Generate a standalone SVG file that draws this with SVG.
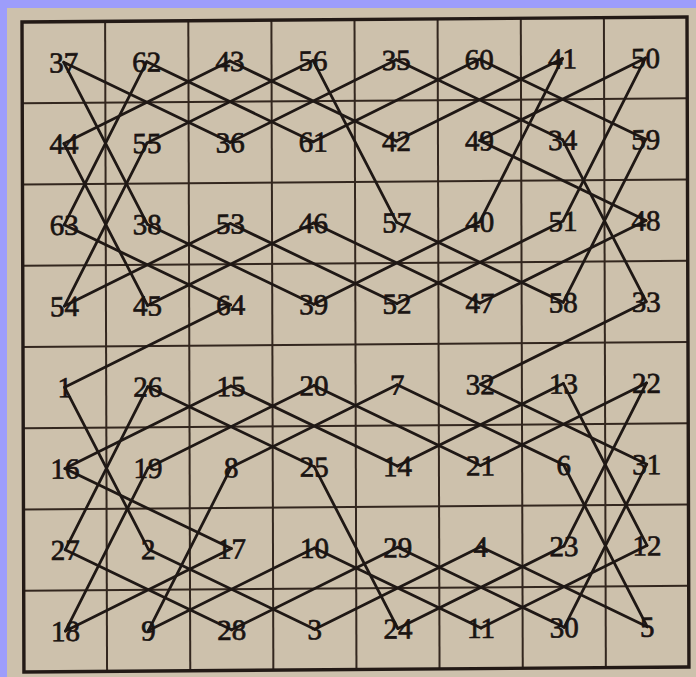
<svg xmlns="http://www.w3.org/2000/svg" width="696" height="677" viewBox="0 0 696 677">
<style>
.grid{stroke:#33271f;stroke-width:2;fill:none}
.border{stroke:#231a16;stroke-width:3.4;fill:none}
.edge{stroke:#1f1815;stroke-width:2.8;stroke-linecap:round}
.num{font-family:"Liberation Serif","DejaVu Serif",serif;font-size:29px;fill:#1a1412;text-anchor:middle;stroke:#1a1412;stroke-width:0.7}
</style>
<rect x="0" y="0" width="696" height="677" fill="#9d9dfb"/>
<rect x="7" y="8" width="700" height="680" fill="#cdc1ac"/>
<g transform="matrix(1,-0.0075,0.003,1,22,22)">
<g id="grid">
<line class="grid" x1="83.1" y1="0" x2="83.1" y2="650"/>
<line class="grid" x1="166.3" y1="0" x2="166.3" y2="650"/>
<line class="grid" x1="249.4" y1="0" x2="249.4" y2="650"/>
<line class="grid" x1="332.5" y1="0" x2="332.5" y2="650"/>
<line class="grid" x1="415.6" y1="0" x2="415.6" y2="650"/>
<line class="grid" x1="498.8" y1="0" x2="498.8" y2="650"/>
<line class="grid" x1="581.9" y1="0" x2="581.9" y2="650"/>
<line class="grid" x1="0" y1="81.3" x2="665" y2="81.3"/>
<line class="grid" x1="0" y1="162.5" x2="665" y2="162.5"/>
<line class="grid" x1="0" y1="243.8" x2="665" y2="243.8"/>
<line class="grid" x1="0" y1="325" x2="665" y2="325"/>
<line class="grid" x1="0" y1="406.3" x2="665" y2="406.3"/>
<line class="grid" x1="0" y1="487.5" x2="665" y2="487.5"/>
<line class="grid" x1="0" y1="568.8" x2="665" y2="568.8"/>
<rect class="border" x="0" y="0" width="665" height="650"/>
</g>
<g id="connectors">
<line class="edge" x1="41.6" y1="365.6" x2="124.7" y2="528.1"/>
<line class="edge" x1="124.7" y1="528.1" x2="290.9" y2="609.4"/>
<line class="edge" x1="290.9" y1="609.4" x2="457.2" y2="528.1"/>
<line class="edge" x1="457.2" y1="528.1" x2="623.4" y2="609.4"/>
<line class="edge" x1="623.4" y1="609.4" x2="540.3" y2="446.9"/>
<line class="edge" x1="540.3" y1="446.9" x2="374.1" y2="365.6"/>
<line class="edge" x1="374.1" y1="365.6" x2="207.8" y2="446.9"/>
<line class="edge" x1="207.8" y1="446.9" x2="124.7" y2="609.4"/>
<line class="edge" x1="124.7" y1="609.4" x2="290.9" y2="528.1"/>
<line class="edge" x1="290.9" y1="528.1" x2="457.2" y2="609.4"/>
<line class="edge" x1="457.2" y1="609.4" x2="623.4" y2="528.1"/>
<line class="edge" x1="623.4" y1="528.1" x2="540.3" y2="365.6"/>
<line class="edge" x1="540.3" y1="365.6" x2="374.1" y2="446.9"/>
<line class="edge" x1="374.1" y1="446.9" x2="207.8" y2="365.6"/>
<line class="edge" x1="207.8" y1="365.6" x2="41.6" y2="446.9"/>
<line class="edge" x1="41.6" y1="446.9" x2="207.8" y2="528.1"/>
<line class="edge" x1="207.8" y1="528.1" x2="41.6" y2="609.4"/>
<line class="edge" x1="41.6" y1="609.4" x2="124.7" y2="446.9"/>
<line class="edge" x1="124.7" y1="446.9" x2="290.9" y2="365.6"/>
<line class="edge" x1="290.9" y1="365.6" x2="457.2" y2="446.9"/>
<line class="edge" x1="457.2" y1="446.9" x2="623.4" y2="365.6"/>
<line class="edge" x1="623.4" y1="365.6" x2="540.3" y2="528.1"/>
<line class="edge" x1="540.3" y1="528.1" x2="374.1" y2="609.4"/>
<line class="edge" x1="374.1" y1="609.4" x2="290.9" y2="446.9"/>
<line class="edge" x1="290.9" y1="446.9" x2="124.7" y2="365.6"/>
<line class="edge" x1="124.7" y1="365.6" x2="41.6" y2="528.1"/>
<line class="edge" x1="41.6" y1="528.1" x2="207.8" y2="609.4"/>
<line class="edge" x1="207.8" y1="609.4" x2="374.1" y2="528.1"/>
<line class="edge" x1="374.1" y1="528.1" x2="540.3" y2="609.4"/>
<line class="edge" x1="540.3" y1="609.4" x2="623.4" y2="446.9"/>
<line class="edge" x1="623.4" y1="446.9" x2="457.2" y2="365.6"/>
<line class="edge" x1="457.2" y1="365.6" x2="623.4" y2="284.4"/>
<line class="edge" x1="623.4" y1="284.4" x2="540.3" y2="121.9"/>
<line class="edge" x1="540.3" y1="121.9" x2="374.1" y2="40.6"/>
<line class="edge" x1="374.1" y1="40.6" x2="207.8" y2="121.9"/>
<line class="edge" x1="207.8" y1="121.9" x2="41.6" y2="40.6"/>
<line class="edge" x1="41.6" y1="40.6" x2="124.7" y2="203.1"/>
<line class="edge" x1="124.7" y1="203.1" x2="290.9" y2="284.4"/>
<line class="edge" x1="290.9" y1="284.4" x2="457.2" y2="203.1"/>
<line class="edge" x1="457.2" y1="203.1" x2="540.3" y2="40.6"/>
<line class="edge" x1="540.3" y1="40.6" x2="374.1" y2="121.9"/>
<line class="edge" x1="374.1" y1="121.9" x2="207.8" y2="40.6"/>
<line class="edge" x1="207.8" y1="40.6" x2="41.6" y2="121.9"/>
<line class="edge" x1="41.6" y1="121.9" x2="124.7" y2="284.4"/>
<line class="edge" x1="124.7" y1="284.4" x2="290.9" y2="203.1"/>
<line class="edge" x1="290.9" y1="203.1" x2="457.2" y2="284.4"/>
<line class="edge" x1="457.2" y1="284.4" x2="623.4" y2="203.1"/>
<line class="edge" x1="623.4" y1="203.1" x2="457.2" y2="121.9"/>
<line class="edge" x1="457.2" y1="121.9" x2="623.4" y2="40.6"/>
<line class="edge" x1="623.4" y1="40.6" x2="540.3" y2="203.1"/>
<line class="edge" x1="540.3" y1="203.1" x2="374.1" y2="284.4"/>
<line class="edge" x1="374.1" y1="284.4" x2="207.8" y2="203.1"/>
<line class="edge" x1="207.8" y1="203.1" x2="41.6" y2="284.4"/>
<line class="edge" x1="41.6" y1="284.4" x2="124.7" y2="121.9"/>
<line class="edge" x1="124.7" y1="121.9" x2="290.9" y2="40.6"/>
<line class="edge" x1="290.9" y1="40.6" x2="374.1" y2="203.1"/>
<line class="edge" x1="374.1" y1="203.1" x2="540.3" y2="284.4"/>
<line class="edge" x1="540.3" y1="284.4" x2="623.4" y2="121.9"/>
<line class="edge" x1="623.4" y1="121.9" x2="457.2" y2="40.6"/>
<line class="edge" x1="457.2" y1="40.6" x2="290.9" y2="121.9"/>
<line class="edge" x1="290.9" y1="121.9" x2="124.7" y2="40.6"/>
<line class="edge" x1="124.7" y1="40.6" x2="41.6" y2="203.1"/>
<line class="edge" x1="41.6" y1="203.1" x2="207.8" y2="284.4"/>
<line class="edge" x1="207.8" y1="284.4" x2="41.6" y2="365.6"/>
</g>
<g id="n37"><text class="num" x="41.6" y="50.6">37</text></g>
<g id="n62"><text class="num" x="124.7" y="50.6">62</text></g>
<g id="n43"><text class="num" x="207.8" y="50.6">43</text></g>
<g id="n56"><text class="num" x="290.9" y="50.6">56</text></g>
<g id="n35"><text class="num" x="374.1" y="50.6">35</text></g>
<g id="n60"><text class="num" x="457.2" y="50.6">60</text></g>
<g id="n41"><text class="num" x="540.3" y="50.6">41</text></g>
<g id="n50"><text class="num" x="623.4" y="50.6">50</text></g>
<g id="n44"><text class="num" x="41.6" y="131.9">44</text></g>
<g id="n55"><text class="num" x="124.7" y="131.9">55</text></g>
<g id="n36"><text class="num" x="207.8" y="131.9">36</text></g>
<g id="n61"><text class="num" x="290.9" y="131.9">61</text></g>
<g id="n42"><text class="num" x="374.1" y="131.9">42</text></g>
<g id="n49"><text class="num" x="457.2" y="131.9">49</text></g>
<g id="n34"><text class="num" x="540.3" y="131.9">34</text></g>
<g id="n59"><text class="num" x="623.4" y="131.9">59</text></g>
<g id="n63"><text class="num" x="41.6" y="213.1">63</text></g>
<g id="n38"><text class="num" x="124.7" y="213.1">38</text></g>
<g id="n53"><text class="num" x="207.8" y="213.1">53</text></g>
<g id="n46"><text class="num" x="290.9" y="213.1">46</text></g>
<g id="n57"><text class="num" x="374.1" y="213.1">57</text></g>
<g id="n40"><text class="num" x="457.2" y="213.1">40</text></g>
<g id="n51"><text class="num" x="540.3" y="213.1">51</text></g>
<g id="n48"><text class="num" x="623.4" y="213.1">48</text></g>
<g id="n54"><text class="num" x="41.6" y="294.4">54</text></g>
<g id="n45"><text class="num" x="124.7" y="294.4">45</text></g>
<g id="n64"><text class="num" x="207.8" y="294.4">64</text></g>
<g id="n39"><text class="num" x="290.9" y="294.4">39</text></g>
<g id="n52"><text class="num" x="374.1" y="294.4">52</text></g>
<g id="n47"><text class="num" x="457.2" y="294.4">47</text></g>
<g id="n58"><text class="num" x="540.3" y="294.4">58</text></g>
<g id="n33"><text class="num" x="623.4" y="294.4">33</text></g>
<g id="n1"><text class="num" x="41.6" y="375.6">1</text></g>
<g id="n26"><text class="num" x="124.7" y="375.6">26</text></g>
<g id="n15"><text class="num" x="207.8" y="375.6">15</text></g>
<g id="n20"><text class="num" x="290.9" y="375.6">20</text></g>
<g id="n7"><text class="num" x="374.1" y="375.6">7</text></g>
<g id="n32"><text class="num" x="457.2" y="375.6">32</text></g>
<g id="n13"><text class="num" x="540.3" y="375.6">13</text></g>
<g id="n22"><text class="num" x="623.4" y="375.6">22</text></g>
<g id="n16"><text class="num" x="41.6" y="456.9">16</text></g>
<g id="n19"><text class="num" x="124.7" y="456.9">19</text></g>
<g id="n8"><text class="num" x="207.8" y="456.9">8</text></g>
<g id="n25"><text class="num" x="290.9" y="456.9">25</text></g>
<g id="n14"><text class="num" x="374.1" y="456.9">14</text></g>
<g id="n21"><text class="num" x="457.2" y="456.9">21</text></g>
<g id="n6"><text class="num" x="540.3" y="456.9">6</text></g>
<g id="n31"><text class="num" x="623.4" y="456.9">31</text></g>
<g id="n27"><text class="num" x="41.6" y="538.1">27</text></g>
<g id="n2"><text class="num" x="124.7" y="538.1">2</text></g>
<g id="n17"><text class="num" x="207.8" y="538.1">17</text></g>
<g id="n10"><text class="num" x="290.9" y="538.1">10</text></g>
<g id="n29"><text class="num" x="374.1" y="538.1">29</text></g>
<g id="n4"><text class="num" x="457.2" y="538.1">4</text></g>
<g id="n23"><text class="num" x="540.3" y="538.1">23</text></g>
<g id="n12"><text class="num" x="623.4" y="538.1">12</text></g>
<g id="n18"><text class="num" x="41.6" y="619.4">18</text></g>
<g id="n9"><text class="num" x="124.7" y="619.4">9</text></g>
<g id="n28"><text class="num" x="207.8" y="619.4">28</text></g>
<g id="n3"><text class="num" x="290.9" y="619.4">3</text></g>
<g id="n24"><text class="num" x="374.1" y="619.4">24</text></g>
<g id="n11"><text class="num" x="457.2" y="619.4">11</text></g>
<g id="n30"><text class="num" x="540.3" y="619.4">30</text></g>
<g id="n5"><text class="num" x="623.4" y="619.4">5</text></g>
</g>
</svg>
